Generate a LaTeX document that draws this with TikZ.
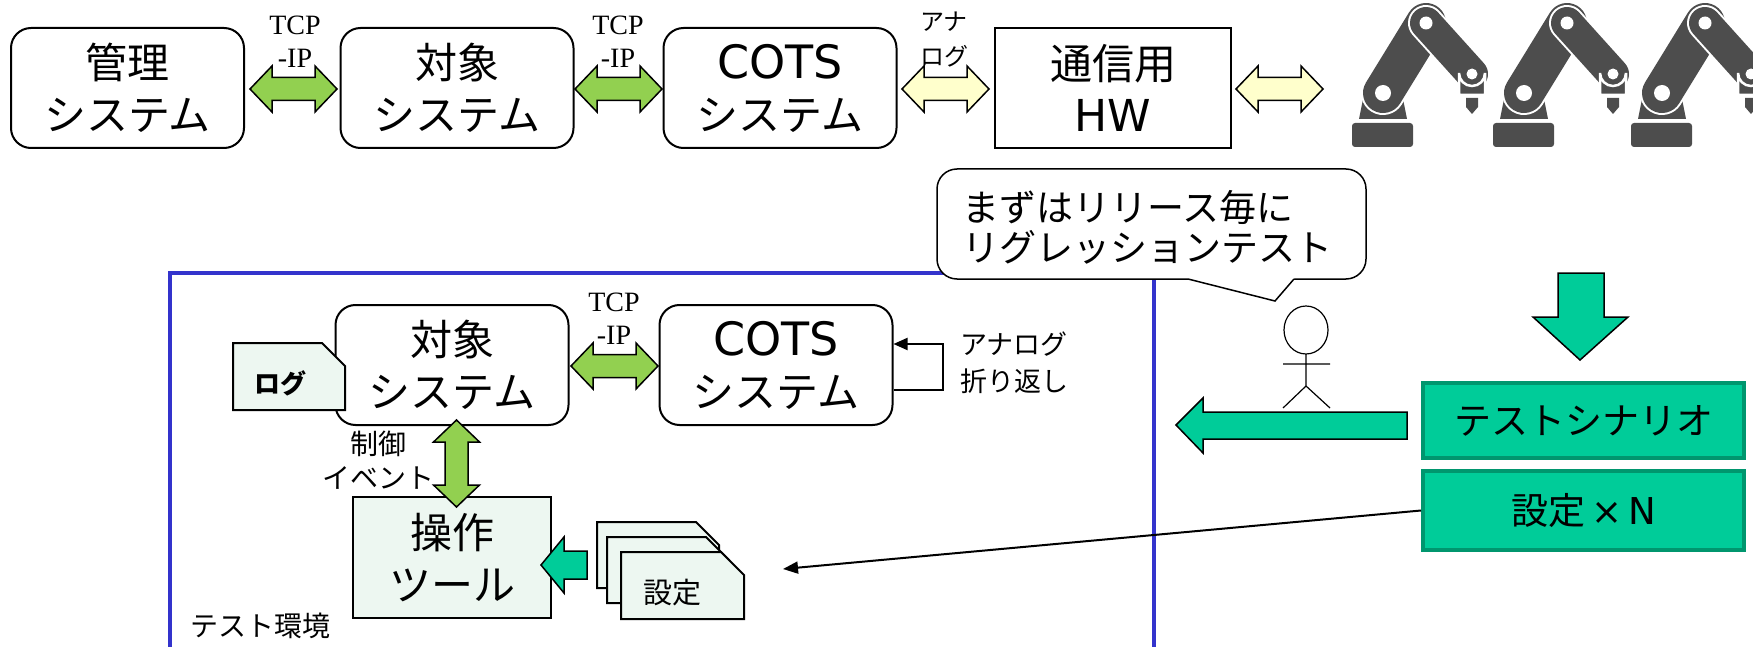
\documentclass[tikz,border=0pt]{standalone}
\usepackage{fontspec}
\setmainfont{Noto Sans CJK JP}
\newfontfamily\verdanalike{DejaVu Sans}
\newfontfamily\timeslike{Liberation Serif}
\usetikzlibrary{arrows.meta}

\definecolor{linkgreen}{HTML}{92D050}
\definecolor{analogyellow}{HTML}{FFFFCC}
\definecolor{scenario}{HTML}{00CC99}
\definecolor{scenarioedge}{HTML}{00966E}
\definecolor{paper}{HTML}{EDF7F1}
\definecolor{envblue}{HTML}{3333CC}
\definecolor{robotgray}{HTML}{4D4D4D}

\tikzset{
  sysbox/.style={draw, line width=2pt, rounded corners=20pt, inner sep=0pt,
    minimum width=233pt, minimum height=120pt, align=center,
    font=\fontsize{42}{52}\selectfont},
  hwbox/.style={sysbox, sharp corners, minimum width=236pt},
  toolbox/.style={sysbox, sharp corners, fill=paper, minimum width=198pt, minimum height=121pt},
  scenbox/.style={draw=scenarioedge, line width=4pt, fill=scenario, inner sep=0pt,
    minimum width=321pt, font=\fontsize{37}{44}\selectfont},
  protolabel/.style={align=center, inner sep=0pt, font=\timeslike\fontsize{28}{33}\selectfont},
  note/.style={inner sep=0pt, font=\fontsize{27}{37}\selectfont},
  sheetlabel/.style={inner sep=0pt, font=\fontsize{29}{34}\selectfont},
  pics/linkarrow/.style={code={
    \draw[pic actions, line width=1.5pt] (0,0) -- (22,-23) -- (22,-11.5) -- (65,-11.5) -- (65,-23)
      -- (87,0) -- (65,23) -- (65,11.5) -- (22,11.5) -- (22,23) -- cycle;
  }},
  pics/docsheet/.style 2 args={code={
    \draw[pic actions, line width=2pt] (0,0) -- (#1-23,0) -- (#1,23) -- (#1,#2) -- (0,#2) -- cycle;
  }},
  pics/robotarm/.style={code={
    % base and shoulder
    \fill[robotgray, rounded corners=3pt] (0,123) rectangle (61,147);
    \fill[robotgray] (7,119) -- (55,119) -- (51,99) -- (11,99) -- cycle;
    % lower arm, then upper arm and wrist on top, each with a white gap
    \draw[white, line width=44pt, line cap=round] (31,93) -- (74,23);
    \draw[robotgray, line width=40pt, line cap=round] (31,93) -- (74,23);
    \draw[white, line width=36pt, line cap=round] (74,23) -- (120,74);
    \draw[robotgray, line width=32pt, line cap=round] (74,23) -- (120,74);
    \filldraw[robotgray, draw=white, line width=2.5pt] (107,95) -- (107,73) arc (180:0:13) -- (133,95) -- cycle;
    \fill[white] (31,93) circle (8) (74,23) circle (6.5) (120,74) circle (5.5);
    \fill[robotgray] (114,98) -- (126,98) -- (126,107) -- (120,114) -- (114,107) -- cycle;
  }},
}

\begin{document}
\begin{tikzpicture}[x=1pt, y=-1pt]
  \useasboundingbox (0,0) rectangle (1753,647);
  \clip (0,0) rectangle (1753,647);

  % --- TEST ENVIRONMENT FRAME ---
  \draw[envblue, line width=4pt] (170,273) rectangle (1154,700);
  \node[note, anchor=west, font=\fontsize{28}{34}\selectfont] (envname) at (190,626) {テスト環境};

  % --- SPEECH BUBBLE ---
  \draw[line width=1.5pt, fill=white, rounded corners=20pt] (937,169) rectangle (1366,279);
  \fill[white] (1188,276) -- (1188,279) -- (1275,301) -- (1294,279) -- (1294,276) -- cycle;
  \draw[line width=1.5pt] (1188,279) -- (1275,301) -- (1294,279);
  \node[inner sep=0pt, anchor=west, align=left, font=\fontsize{37}{40}\selectfont] (talk) at (962,227)
    {まずはリリース毎に\\リグレッションテスト};

  % --- TOP ROW: PRODUCTION CHAIN ---
  \node[sysbox] (mgmt) at (127.5,88) {管理\\システム};
  \node[sysbox] (target) at (457,88) {対象\\システム};
  \node[sysbox] (cots) at (780,88) {{\verdanalike\fontsize{46}{52}\selectfont COTS}\\システム};
  \node[hwbox] (hw) at (1113,88) {通信用\\{\verdanalike\fontsize{44}{52}\selectfont HW}};

  \pic[fill=linkgreen] at (250,89) {linkarrow};
  \pic[fill=linkgreen] at (575,89) {linkarrow};
  \pic[fill=analogyellow] at (902,89) {linkarrow};
  \pic[fill=analogyellow] at (1236,89) {linkarrow};

  \node[protolabel] (tcpA) at (295,42) {TCP\\-IP};
  \node[protolabel] (tcpB) at (618,42) {TCP\\-IP};
  \node[protolabel, font=\fontsize{24}{35}\selectfont] (analogA) at (944,40) {アナ\\ログ};

  \pic at (1352,0) {robotarm};
  \pic at (1493,0) {robotarm};
  \pic at (1631,0) {robotarm};

  % --- LOWER LEFT: TEST SETUP ---
  \node[sysbox] (target2) at (452,365) {対象\\システム};
  \pic[fill=paper] at (233,343) {docsheet={112}{67}};
  \node[sheetlabel, font=\bfseries\fontsize{26}{30}\selectfont] (logtext) at (280,383) {ログ};

  \node[sysbox] (cots2) at (776,365) {{\verdanalike\fontsize{46}{52}\selectfont COTS}\\システム};
  \pic[fill=linkgreen] at (571,366) {linkarrow};
  \node[protolabel] (tcpC) at (614,319) {TCP\\-IP};

  \draw[line width=2pt, -{Triangle[length=14pt,width=12pt]}]
    ([yshift=-25pt]cots2.east) -- ++(49,0) |- ([yshift=21pt]cots2.east);
  \node[note, anchor=west, align=left] (loopnote) at (960,363) {アナログ\\折り返し};

  \node[toolbox] (tool) at (452,557.5) {操作\\ツール};
  \pic[fill=linkgreen, rotate=90] at (456.5,507) {linkarrow};
  \node[note, align=center, font=\fontsize{28}{34}\selectfont] (ctrl) at (378,460) {制御\\イベント};

  \pic[fill=paper] at (597,522) {docsheet={122}{66}};
  \pic[fill=paper] at (607,537) {docsheet={122}{66}};
  \pic[fill=paper] at (621,552) {docsheet={123}{67}};
  \node[sheetlabel] (cfgtext) at (672,593) {設定};
  \draw[line width=1.5pt, fill=scenario] (541,565) -- (564,537) -- (564,551) -- (587,551)
    -- (587,579) -- (564,579) -- (564,593) -- cycle;

  % --- RIGHT SIDE: SCENARIOS ---
  \draw[line width=1.2pt] (1306,330) ellipse [x radius=22, y radius=24];
  \draw[line width=1.2pt] (1306,354) -- (1306,386) -- (1283,408) (1306,386) -- (1330,408)
    (1283,364) -- (1330,364);

  \draw[line width=1.5pt, fill=scenario] (1558,273) -- (1604,273) -- (1604,317) -- (1628,317)
    -- (1580,360) -- (1533,317) -- (1558,317) -- cycle;
  \node[scenbox, minimum height=75pt] (scen) at (1583.5,420.5) {テストシナリオ};
  \node[scenbox, minimum height=79pt] (cfgN) at (1583.5,510.5) {設定{\verdanalike\,×\,N}};

  \draw[line width=1.5pt, fill=scenario] (1176,425) -- (1203,398) -- (1203,412) -- (1407,412)
    -- (1407,439) -- (1203,439) -- (1203,453) -- cycle;

  \coordinate (cfgtip) at (783,569);
  \draw[line width=2pt, -{Triangle[length=15pt,width=12pt]}] (cfgN.west) -- (cfgtip);
\end{tikzpicture}
\end{document}
